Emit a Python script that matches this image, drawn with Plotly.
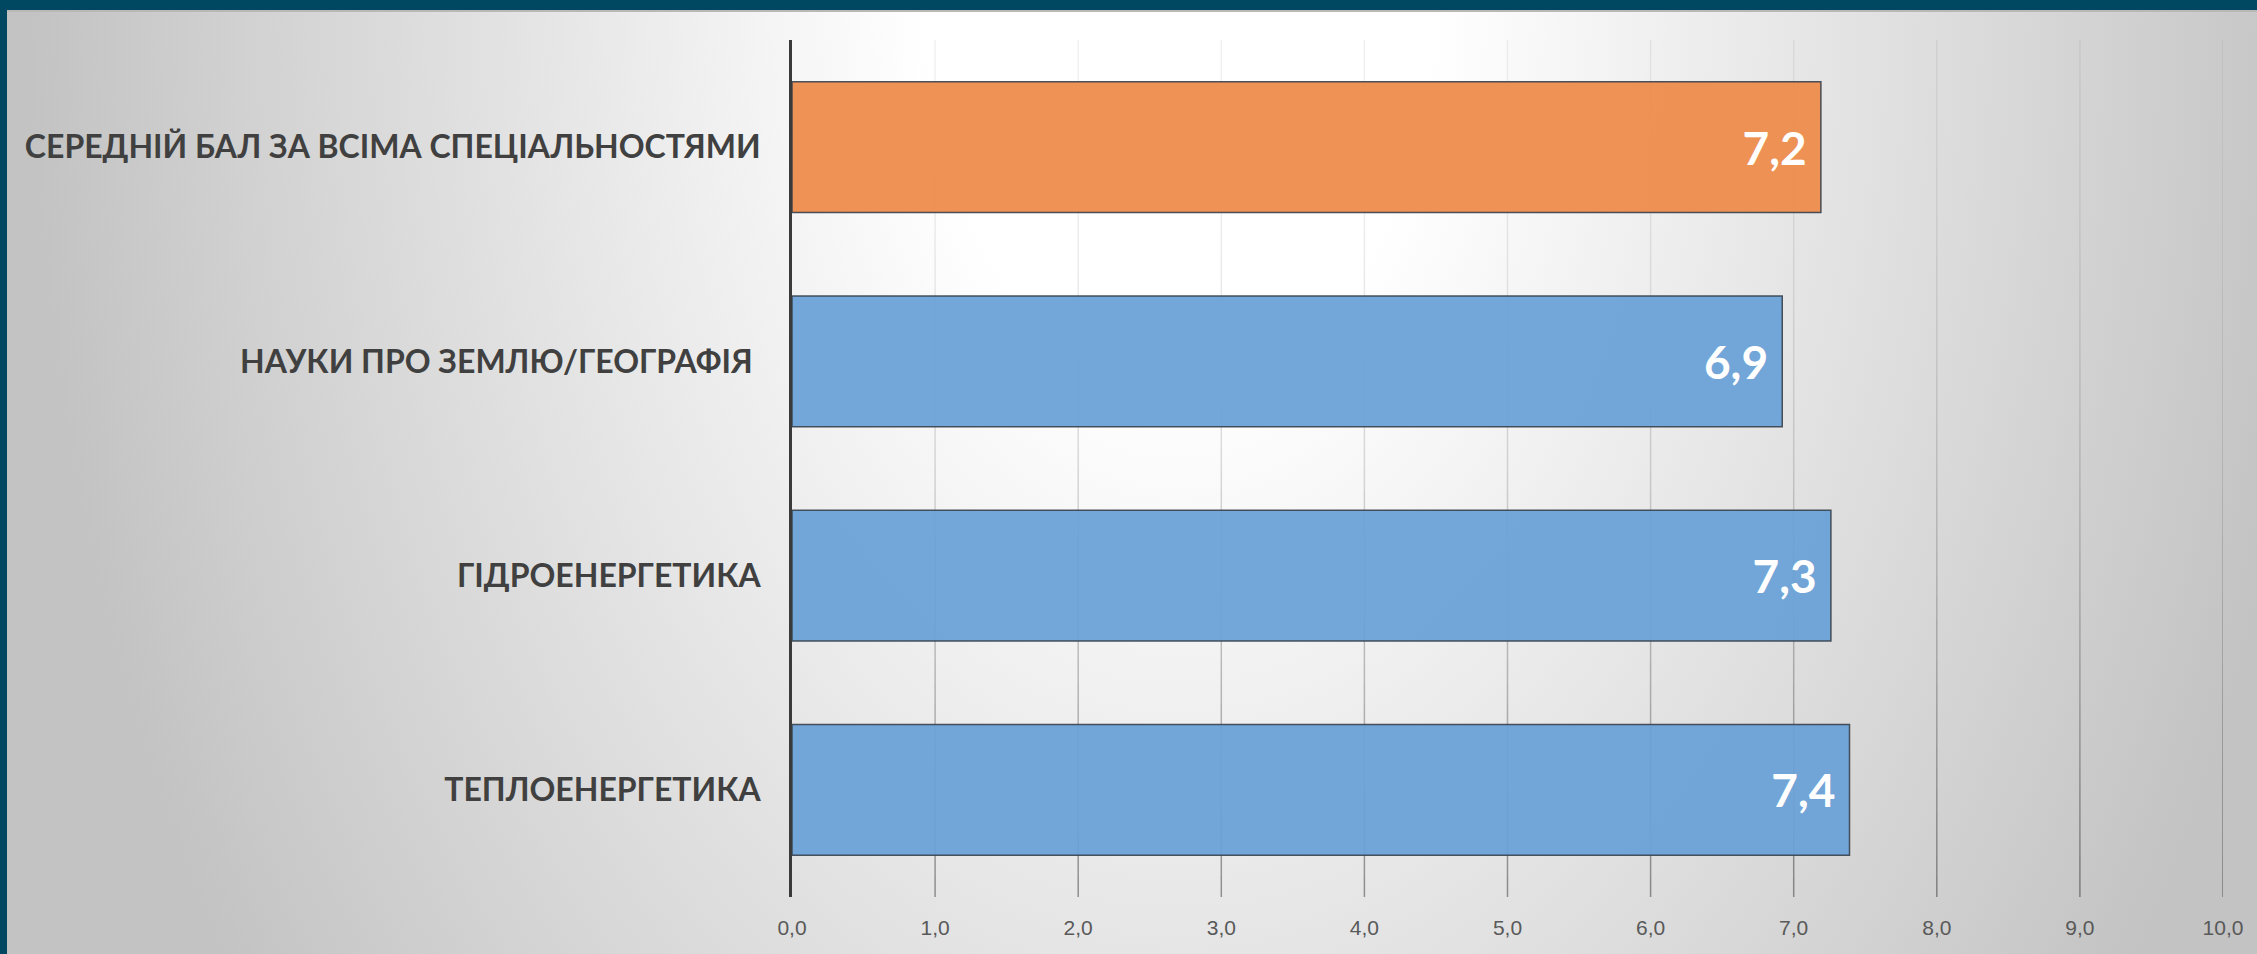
import base64
import plotly.graph_objects as go

# ---- data ----
categories = [
    "СЕРЕДНІЙ БАЛ ЗА ВСІМА СПЕЦІАЛЬНОСТЯМИ",
    "НАУКИ ПРО ЗЕМЛЮ/ГЕОГРАФІЯ\u00a0",
    "ГІДРОЕНЕРГЕТИКА",
    "ТЕПЛОЕНЕРГЕТИКА",
]
values = [7.19, 6.92, 7.26, 7.39]
bar_colors = ["rgba(237,139,74,0.94)", "rgba(106,162,215,0.94)",
              "rgba(106,162,215,0.94)", "rgba(106,162,215,0.94)"]
tick_values = [0, 1, 2, 3, 4, 5, 6, 7, 8, 9, 10]
tick_labels = ["0,0", "1,0", "2,0", "3,0", "4,0", "5,0", "6,0", "7,0", "8,0", "9,0", "10,0"]

# ---- layout geometry ----
W, H = 2257, 954
ML, MR, MT, MB = 792, 34, 40, 57
PW, PH = W - ML - MR, H - MT - MB

# background (slide gradient + frame) as an SVG image
svg = f'''<svg xmlns="http://www.w3.org/2000/svg" width="{W}" height="{H}" viewBox="0 0 {W} {H}" preserveAspectRatio="none">
<defs><radialGradient id="g" gradientUnits="userSpaceOnUse" cx="1180" cy="0" r="1150" gradientTransform="scale(1,1.5)">
<stop offset="0" stop-color="#ffffff"/><stop offset="0.22" stop-color="#ffffff"/><stop offset="1" stop-color="#c3c3c3"/>
</radialGradient></defs>
<rect width="{W}" height="{H}" fill="url(#g)"/>
<rect x="0" y="0" width="{W}" height="10" fill="#004862"/>
<rect x="7" y="10" width="{W}" height="2" fill="#b8b8b8"/>
<rect x="0" y="0" width="7" height="{H}" fill="#004862"/>
</svg>'''
src = "data:image/svg+xml;base64," + base64.b64encode(svg.encode("utf-8")).decode("ascii")

fig = go.Figure()
fig.add_trace(go.Bar(
    x=values, y=categories, orientation="h",
    marker=dict(color=bar_colors, line=dict(color="rgba(55,65,75,0.9)", width=1.5)),
    texttemplate="%{x:.1f}\u00a0", textposition="inside", insidetextanchor="end",
    textfont=dict(family="Lato", size=46, color="white", weight="bold"),
    cliponaxis=False, hoverinfo="skip",
))

# gridlines with a vertical fade (darker toward the bottom), built from the tick list
shapes = []
NSEG = 40
for tv in tick_values[1:]:
    for k in range(NSEG):
        t0 = k / NSEG
        t1 = (k + 1) / NSEG
        tm = (t0 + t1) / 2
        a = 0.06 + 0.33 * tm ** 2
        shapes.append(dict(type="line", xref="x", yref="paper", x0=tv, x1=tv,
                           y0=1 - t0, y1=1 - t1, layer="below",
                           line=dict(color=f"rgba(0,0,0,{a:.3f})", width=1.5)))

fig.update_layout(
    width=W, height=H,
    margin=dict(l=ML, r=MR, t=MT, b=MB, pad=0, autoexpand=False),
    paper_bgcolor="#d8d8d8", plot_bgcolor="rgba(0,0,0,0)",
    separators=", ",
    bargap=0.39,
    showlegend=False,
    shapes=shapes,
    images=[dict(source=src, xref="paper", yref="paper",
                 x=-ML / PW, y=1 + MT / PH, sizex=W / PW, sizey=H / PH,
                 xanchor="left", yanchor="top", sizing="stretch", layer="below")],
    xaxis=dict(range=[0, 10], tickvals=tick_values, ticktext=tick_labels,
               showgrid=False, zeroline=False, showline=False, automargin=False,
               ticks="", ticklabelstandoff=16,
               tickfont=dict(family="Liberation Sans", size=21, color="#595959")),
    yaxis=dict(autorange="reversed", showgrid=False, zeroline=False, automargin=False,
               showline=True, linecolor="#3a3a3a", linewidth=3,
               ticks="", ticklabelstandoff=22,
               tickfont=dict(family="Lato", size=32, color="#404040", weight="bold")),
)

fig.write_html("out.html", config={"displayModeBar": False},
               post_script="document.body.style.margin='0';document.body.style.overflow='hidden';")
